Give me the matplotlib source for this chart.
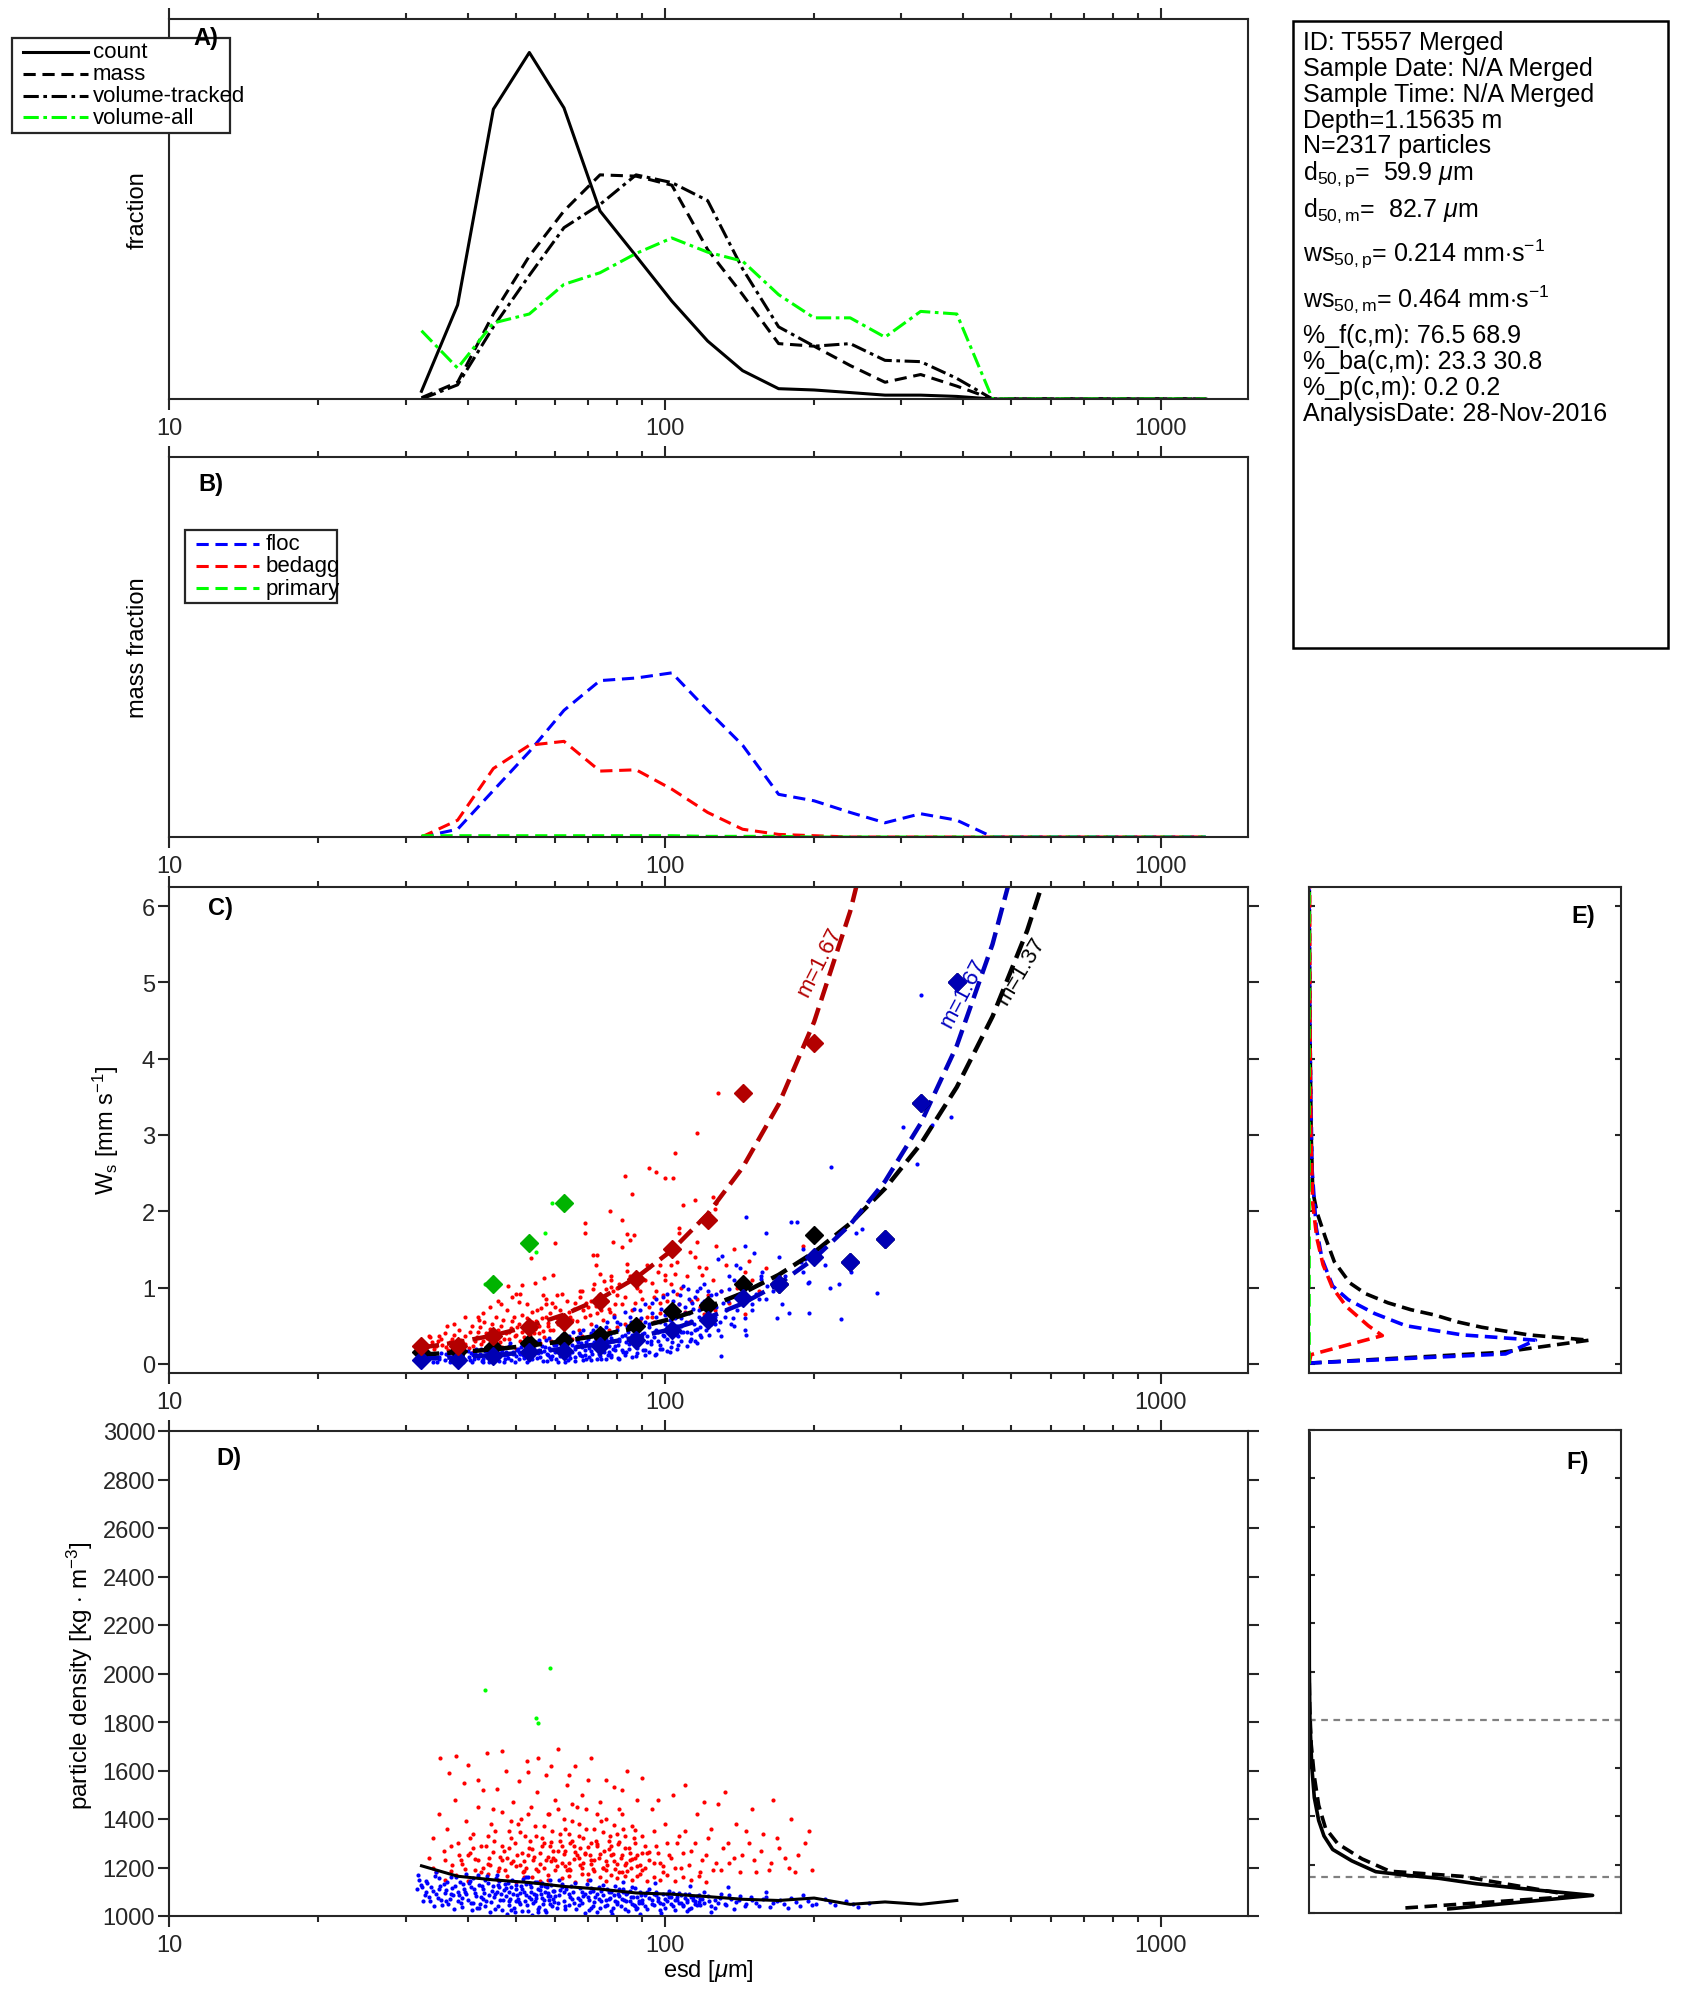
import numpy as np
import matplotlib
matplotlib.use('Agg')
import matplotlib.pyplot as plt
from matplotlib.lines import Line2D
from matplotlib.patches import Rectangle
from matplotlib.ticker import FixedLocator, NullFormatter

plt.rcParams['font.family'] = ['Liberation Sans', 'DejaVu Sans']
plt.rcParams['mathtext.fontset'] = 'custom'
plt.rcParams['mathtext.rm'] = 'Liberation Sans'
plt.rcParams['mathtext.it'] = 'Liberation Sans:italic'
plt.rcParams['mathtext.bf'] = 'Liberation Sans:bold'

# ---------------- data ----------------
bins = [32.3, 38.2, 45.1, 53.3, 62.6, 74.0, 87.5, 103.3, 122, 143.5, 169.6, 200,
        236.5, 278, 328, 388, 458, 538, 636, 751, 887, 1049, 1233]

# panel A (fraction, arbitrary units)
frac_count = [0.006, 0.073, 0.225, 0.269, 0.226, 0.146, 0.111, 0.076, 0.045, 0.022, 0.008,
              0.007, 0.005, 0.003, 0.003, 0.002, 0, 0, 0, 0, 0, 0, 0]
frac_mass = [0.001, 0.013, 0.066, 0.111, 0.146, 0.174, 0.173, 0.166, 0.116, 0.081, 0.043,
             0.041, 0.026, 0.013, 0.019, 0.010, 0, 0, 0, 0, 0, 0, 0]
frac_voltracked = [0.0, 0.011, 0.056, 0.096, 0.133, 0.151, 0.174, 0.168, 0.154, 0.101, 0.056,
                   0.041, 0.043, 0.030, 0.029, 0.016, 0, 0, 0, 0, 0, 0, 0]
frac_volall = [0.053, 0.024, 0.059, 0.066, 0.089, 0.098, 0.113, 0.125, 0.114, 0.107, 0.081,
               0.063, 0.063, 0.048, 0.068, 0.066, 0, 0, 0, 0, 0, 0, 0]

# panel B (mass fraction, arbitrary units)
mf_floc = [0.0, 0.006, 0.036, 0.066, 0.098, 0.121, 0.123, 0.127, 0.098, 0.071, 0.033,
           0.028, 0.019, 0.011, 0.018, 0.013, 0, 0, 0, 0, 0, 0, 0]
mf_bedagg = [0.0, 0.013, 0.053, 0.071, 0.074, 0.051, 0.052, 0.037, 0.019, 0.006, 0.002,
             0.001, 0, 0, 0, 0, 0, 0, 0, 0, 0, 0, 0]
mf_primary = [0.001, 0.001, 0.001, 0.001, 0.001, 0.001, 0.001, 0.001, 0.0005, 0.0005, 0.0005,
              0, 0, 0, 0, 0, 0, 0, 0, 0, 0, 0, 0]

# panel C medians per bin (first 16 bins)
med_bins = bins[:16]
ws_med_floc = [0.056, 0.056, 0.10, 0.15, 0.17, 0.24, 0.31, 0.45, 0.57, 0.86, 1.04, 1.40,
               1.33, 1.63, 3.42, 5.0]
ws_med_bedagg = [0.24, 0.24, 0.36, 0.48, 0.55, 0.83, 1.11, 1.51, 1.88, 3.55, np.nan, 4.2,
                 np.nan, np.nan, np.nan, np.nan]
ws_med_primary = [np.nan, np.nan, 1.04, 1.59, 2.11, np.nan, np.nan, np.nan, np.nan, np.nan,
                  np.nan, np.nan, np.nan, np.nan, np.nan, np.nan]
ws_med_all = [0.15, 0.17, 0.22, 0.27, 0.31, 0.38, 0.50, 0.69, 0.77, 1.04, 1.04, 1.69,
              1.33, 1.63, 3.42, 5.0]

# fitted settling-velocity curves evaluated at bin centres (first 19 bins)
fit_bins = bins[:19]
ws_fit_bedagg = [0.213, 0.283, 0.373, 0.493, 0.645, 0.852, 1.128, 1.488, 1.964, 2.573, 3.400,
                 4.482, 5.931, 7.78, np.nan, np.nan, np.nan, np.nan, np.nan]
ws_fit_floc = [0.066, 0.087, 0.115, 0.152, 0.198, 0.262, 0.347, 0.457, 0.604, 0.791, 1.045,
               1.378, 1.824, 2.392, 3.15, 4.17, 5.50, 7.20, np.nan]
ws_fit_all = [0.120, 0.152, 0.190, 0.239, 0.298, 0.375, 0.472, 0.592, 0.743, 0.927, 1.166,
              1.462, 1.840, 2.298, 2.880, 3.628, 4.553, 5.679, 7.133]
fit_labels = ['m=1.67', 'm=1.67', 'm=1.37']

# panel C particles (esd um, ws mm/s)
c_floc = [
 (31.5,0.04),(32.0,0.07),(32.4,0.10),(33.0,0.05),(33.5,0.12),(34.0,0.03),(34.4,0.08),(35.0,0.06),
 (35.3,0.14),(33.8,0.09),(36.0,0.05),(36.5,0.11),(37.0,0.08),(37.4,0.15),(38.0,0.04),(38.5,0.10),
 (39.0,0.13),(39.4,0.07),(40.0,0.17),(40.5,0.05),(41.0,0.11),(41.5,0.14),(42.0,0.08),(42.5,0.19),
 (43.0,0.06),(43.5,0.12),(44.0,0.16),(44.5,0.10),(45.0,0.04),(45.5,0.21),(46.0,0.09),(46.5,0.14),
 (47.0,0.18),(47.5,0.07),(48.0,0.12),(48.5,0.23),(49.0,0.05),(49.5,0.16),(50.0,0.10),(50.5,0.20),
 (51.0,0.13),(51.5,0.26),(52.0,0.08),(52.5,0.17),(53.0,0.22),(53.5,0.11),(54.0,0.06),(54.5,0.19),
 (55.0,0.28),(55.5,0.14),(56.0,0.09),(56.5,0.24),(57.0,0.17),(57.5,0.31),(58.0,0.12),(58.5,0.21),
 (59.0,0.07),(59.5,0.27),(60.0,0.15),(61.0,0.33),(61.5,0.10),(62.0,0.22),(62.5,0.18),(63.0,0.29),
 (63.5,0.13),(64.0,0.36),(64.5,0.08),(65.0,0.25),(66.0,0.19),(66.5,0.31),(67.0,0.14),(67.5,0.40),
 (68.0,0.22),(69.0,0.11),(69.5,0.28),(70.0,0.35),(71.0,0.17),(71.5,0.44),(72.0,0.24),(73.0,0.30),
 (73.5,0.13),(74.0,0.38),(75.0,0.20),(76.0,0.48),(76.5,0.27),(77.0,0.16),(78.0,0.34),(79.0,0.42),
 (79.5,0.23),(80.0,0.55),(81.0,0.30),(82.0,0.18),(83.0,0.38),(84.0,0.50),(84.5,0.26),(85.0,0.62),
 (86.0,0.33),(87.0,0.45),(88.0,0.21),(89.0,0.70),(90.0,0.39),(91.0,0.55),(92.0,0.28),(93.0,0.48),
 (94.0,0.80),(95.0,0.35),(96.0,0.62),(97.0,0.42),(98.0,0.25),(99.0,0.88),(100.0,0.52),(101.0,0.33),
 (102.0,0.70),(103.0,0.45),(104.0,0.95),(105.0,0.60),(106.0,0.38),(107.0,0.78),(108.0,0.50),
 (109.0,1.02),(110.0,0.66),(111.0,0.42),(112.0,0.85),(113.0,0.56),(114.0,0.72),(115.0,0.30),
 (116.0,0.95),(117.0,0.62),(118.0,0.48),(119.0,0.80),(120.0,1.05),(121.0,0.55),(122.0,0.70),
 (123.0,0.38),(124.0,0.90),(125.0,0.60),(127.0,0.75),(128.0,0.45),(130.0,0.95),(132.0,0.62),
 (134.0,0.82),(136.0,0.52),(138.0,1.10),(140.0,0.70),(142.0,0.88),(145.0,0.60),(148.0,1.00),
 (150.0,0.78),(153.0,0.92),(156.0,1.15),(160.0,0.85),
 (40.8,0.02),(44.2,0.03),(47.3,0.02),(52.8,0.03),(57.8,0.04),(62.8,0.03),(68.5,0.05),(74.5,0.06),
 (80.5,0.08),(87.5,0.10),(95.5,0.12),(102.5,0.15),(37.8,0.02),(42.8,0.04),(45.8,0.13),(50.8,0.15),
 (55.8,0.18),(60.8,0.20),(65.8,0.22),(70.8,0.25),(75.8,0.28),(80.8,0.33),(85.8,0.36),(90.8,0.40),
 (95.8,0.45),(100.8,0.48),(105.8,0.50),(58.8,0.09),(64.2,0.12),(70.4,0.09),(76.8,0.12),(83.6,0.15),
 (91.4,0.18),(98.6,0.20),(106.5,0.25),(112.5,0.30),(118.5,0.35),(60.2,0.25),(66.8,0.28),
 (72.6,0.32),(78.6,0.20),(86.6,0.26),(93.6,0.30),(99.6,0.36),(107.8,0.42),(114.8,0.45),
 (32.2,0.02),(32.8,0.13),(33.3,0.07),(34.1,0.11),(34.7,0.02),(35.1,0.09),(36.2,0.13),(36.8,0.03),
 (37.3,0.06),(38.2,0.12),(38.7,0.17),(39.2,0.03),(40.2,0.09),(40.7,0.14),(41.2,0.06),(41.7,0.19),
 (42.3,0.13),(42.9,0.02),(43.3,0.17),(43.8,0.09),(44.3,0.21),(44.8,0.06),(45.3,0.12),(45.8,0.24),
 (46.3,0.04),(46.8,0.19),(47.3,0.11),(47.8,0.15),(48.3,0.08),(48.8,0.27),(49.3,0.13),(49.8,0.03),
 (50.3,0.18),(50.8,0.06),(51.3,0.22),(51.8,0.11),(52.3,0.29),(52.8,0.14),(53.3,0.05),(53.8,0.20),
 (54.3,0.12),(54.8,0.25),(55.3,0.08),(55.8,0.31),(56.3,0.16),(56.8,0.04),(57.3,0.22),(57.8,0.13),
 (58.3,0.34),(58.8,0.18),(59.3,0.10),(59.8,0.25),(60.4,0.06),(60.9,0.29),(61.4,0.15),(61.9,0.38),
 (62.4,0.11),(62.9,0.24),(63.4,0.19),(63.9,0.05),(64.4,0.31),(64.9,0.16),(65.4,0.42),(65.9,0.09),
 (66.4,0.23),(66.9,0.35),(67.4,0.12),(67.9,0.27),(68.4,0.45),(68.9,0.18),(69.4,0.06),(69.9,0.32),
 (70.4,0.21),(70.9,0.40),(71.4,0.13),(71.9,0.29),(72.5,0.50),(73.0,0.20),(73.5,0.35),(74.0,0.10),
 (74.5,0.27),(75.0,0.44),(75.5,0.16),(76.0,0.33),(76.5,0.55),(77.0,0.24),(77.5,0.39),(78.0,0.12),
 (78.5,0.30),(79.0,0.62),(79.5,0.18),(80.0,0.45),(80.6,0.25),(81.2,0.52),(81.8,0.36),(82.4,0.15),
 (83.0,0.68),(83.6,0.28),(84.2,0.42),(84.8,0.20),(85.4,0.55),(86.0,0.38),(86.6,0.72),(87.2,0.24),
 (88.0,0.46),(88.8,0.32),(89.6,0.60),(90.4,0.18),(91.2,0.78),(92.0,0.36),(92.8,0.52),(93.6,0.26),
 (94.4,0.66),(95.2,0.42),(96.0,0.85),(96.8,0.30),(97.6,0.55),(98.4,0.72),(99.2,0.38),(100.0,0.64),
 (100.8,0.92),(101.6,0.44),(102.4,0.58),(103.2,0.28),(104.0,0.82),(104.8,0.50),(105.6,0.68),
 (106.4,0.36),(107.2,0.90),(108.0,0.60),(108.8,0.42),(109.6,0.75),(110.4,0.55),(111.2,0.98),
 (112.0,0.66),(112.8,0.40),(113.6,0.80),(114.4,0.52),(115.2,0.88),(116.0,0.46),(117,0.70),
 (118,1.00),(119,0.58),(120,0.82),(121,0.44),(122,0.95),(123,0.66),(124,0.52),(125,0.78),
 (126,0.62),(127,0.92),(129,0.55),(131,0.80),(133,0.70),(135,0.98),(137,0.60),
 (61,0.03),(66,0.04),(71,0.05),(76,0.07),(81,0.06),(86,0.09),(91,0.11),(96,0.13),(101,0.17),
 (106,0.20),(111,0.23),(116,0.27),(63,0.08),(68,0.10),(73,0.07),(78,0.09),(83,0.11),(88,0.14),
 (93,0.16),(98,0.19),(103,0.22),(108,0.30),(113,0.33),(118,0.38),
 (146,1.93),(180,1.86),(160,1.72),(145,1.54),(151,1.45),(130.5,1.41),(128,1.38),(139,1.30),
 (157,1.20),(156,1.11),(161,1.02),(190,1.20),(188,1.34),(194,1.06),(178,0.67),(172,0.78),
 (146,0.38),(130,0.10),(145,0.45),(130,0.36),(138,0.50),(126,0.52),(216,2.58),(227,0.59),
 (215,0.99),(224,1.04),(237,1.21),(243,1.72),(250,1.77),(185,1.86),(190,1.51),(192,1.37),
 (195,1.07),(195,0.66),(268,0.93),(322,2.62),(302,3.10),(346,3.13),(377,3.23),(328,4.84),
 (170,1.40),(175,1.15),(165,0.95),(155,0.85),(168,0.60),(150,0.70),(140,0.90),(135,1.15),
 (142,1.25),(205,1.45),(210,1.30)]
c_bedagg = [
 (32.0,0.18),(32.5,0.28),(33.0,0.22),(33.6,0.35),(34.2,0.20),(34.8,0.30),(35.5,0.25),(36.0,0.40),
 (36.6,0.18),(37.2,0.32),(37.8,0.24),(38.4,0.45),(39.0,0.28),(39.6,0.36),(40.2,0.21),(40.8,0.50),
 (41.4,0.30),(42.0,0.42),(42.6,0.26),(43.2,0.55),(43.8,0.34),(44.4,0.46),(45.0,0.29),(45.6,0.62),
 (46.2,0.38),(46.8,0.50),(47.4,0.32),(48.0,0.70),(48.6,0.42),(49.2,0.56),(49.8,0.36),(50.4,0.48),
 (51.0,0.30),(51.6,0.64),(52.2,0.44),(52.8,0.78),(53.4,0.38),(54.0,0.55),(54.6,0.46),(55.2,0.70),
 (55.8,0.40),(56.4,0.60),(57.0,0.35),(57.6,0.85),(58.2,0.50),(58.8,0.66),(59.4,0.44),(60.0,0.75),
 (61.0,0.52),(62.0,0.92),(63.0,0.48),(64.0,0.68),(65.0,0.58),(66.0,0.80),(67.0,0.45),(68.0,0.95),
 (69.0,0.62),(70.0,0.74),(71.0,0.52),(72.0,1.05),(73.0,0.66),(74.0,0.86),(75.0,0.58),(76.0,0.98),
 (77.0,0.72),(78.0,1.15),(79.0,0.64),(80.0,0.90),(82.0,0.78),(84.0,1.22),(86.0,0.70),(88.0,1.00),
 (90.0,0.85),(92.0,1.30),(94.0,0.62),(96.0,0.95),(98.0,0.80),(100.0,1.10),(104.0,0.75),
 (108.0,1.00),(112.0,0.55),(116.0,0.85),(120.0,0.65),
 (41,0.16),(44,0.19),(47,0.22),(50,0.20),(53,0.25),(56,0.27),(59,0.30),(62,0.28),(65,0.33),
 (68,0.36),(71,0.38),(74,0.42),(77,0.45),(80,0.48),(83,0.52),(86,0.50),(89,0.58),(92,0.62),
 (95,0.55),(98,0.66),(101,0.70),(104,0.60),(107,0.78),(110,0.68),(113,0.82),(118,0.75),
 (122,0.90),(126,0.70),(130,0.95),(135,0.80),(140,1.00),(145,0.65),(150,1.10),(160,1.25),
 (32.4,0.25),(33.2,0.15),(33.9,0.28),(34.6,0.23),(35.3,0.33),(36.2,0.22),(36.9,0.28),(37.6,0.38),
 (38.1,0.20),(38.8,0.31),(39.5,0.26),(40.4,0.42),(41.1,0.24),(41.8,0.35),(42.4,0.48),(43.0,0.30),
 (43.6,0.40),(44.2,0.25),(44.9,0.52),(45.5,0.35),(46.1,0.44),(46.6,0.28),(47.2,0.58),(47.8,0.40),
 (48.4,0.33),(49.0,0.47),(49.6,0.62),(50.2,0.38),(50.9,0.52),(51.5,0.42),(52.1,0.35),(52.7,0.60),
 (53.2,0.47),(53.9,0.68),(54.5,0.40),(55.1,0.56),(55.7,0.49),(56.3,0.73),(56.9,0.43),(57.5,0.62),
 (58.1,0.54),(58.7,0.45),(59.3,0.80),(60.5,0.60),(61.5,0.70),(62.5,0.55),(63.5,0.82),(64.5,0.62),
 (65.5,0.72),(66.5,0.56),(67.5,0.88),(68.5,0.70),(69.5,0.80),(70.5,0.64),(71.5,0.98),(72.5,0.76),
 (73.5,0.90),(74.5,0.70),(75.5,1.08),(76.5,0.82),(77.5,0.68),(78.5,0.95),(79.5,0.78),(81,1.05),
 (83,0.88),(85,1.15),(87,0.80),(89,0.95),(91,1.10),(93,0.75),(97,1.20),(99,0.90),(103,1.30),
 (111,1.15),(115,1.40),(121,1.25),(125,1.10),(133,1.30),(138,1.50),(145,1.20),
 (128,3.55),(116,3.02),(105,2.77),(93,2.57),(96,2.52),(100,2.43),(104,2.43),(83,2.46),(86,2.22),
 (77.5,2.0),(69,1.84),(69,1.72),(82,1.88),(84,1.70),(86.5,1.69),(85,1.62),(82,1.53),(78.5,1.60),
 (60,1.58),(53.6,1.39),(71.5,1.43),(73,1.43),(72.5,1.30),(74,1.18),(78,1.10),(78,1.01),(80,0.99),
 (109,2.08),(115,2.15),(125,2.19),(127,2.11),(126,2.03),(127,1.55),(116,1.60),(112.5,1.47),
 (107,1.78),(107,1.72),(106,1.34),(117,1.27),(119,1.17),(98,1.30),(100,1.16),(105,1.18),
 (103,1.04),(106,0.92),(101,0.83),(95,0.88),(93,1.27),(94,1.06),(84,1.31),(59.6,1.17),(57,1.13),
 (54.6,1.06),(51.5,1.03),(48.3,1.02),(50,0.92),(51,0.91),(46,0.83),(46.8,0.78),(44.5,0.74),
 (42.9,0.66),(39.6,0.62),(37.6,0.52),(36.4,0.50),(33.5,0.36),(35,0.36),(42.2,0.57),(42,0.62),
 (49.2,0.88),(50.8,0.81),(56.7,0.90),(57.6,0.78),(60.7,0.90),(67.4,0.95),(71,0.83),
 (148,1.35),(155,0.95),(170,1.15),(190,1.55)]
c_primary = [(43.4,1.04),(57.2,1.72),(59.2,2.11),(55.0,1.47)]

# panel D particles (esd um, density kg/m3)
d_floc = [
 (32.0,1150),(32.4,1120),(32.8,1085),(33.2,1135),(33.6,1060),(34.0,1105),(34.4,1165),(34.8,1075),
 (35.2,1125),(35.6,1045),(36.0,1095),(36.4,1140),(36.8,1070),(37.2,1115),(37.6,1030),(38.0,1160),
 (38.4,1088),(38.8,1052),(39.2,1130),(39.6,1100),(40.0,1068),(40.4,1145),(40.8,1025),(41.2,1110),
 (41.6,1082),(42.0,1170),(42.4,1048),(42.8,1122),(43.2,1095),(43.6,1060),(44.0,1138),(44.4,1018),
 (44.8,1105),(45.2,1078),(45.6,1155),(46.0,1040),(46.4,1118),(46.8,1090),(47.2,1065),(47.6,1130),
 (48.0,1010),(48.4,1100),(48.8,1072),(49.2,1148),(49.6,1035),(50.0,1112),(50.4,1085),(50.8,1058),
 (51.2,1125),(51.6,1022),(52.0,1098),(52.4,1160),(52.8,1045),(53.2,1080),(53.6,1118),(54.0,1005),
 (54.4,1092),(54.8,1062),(55.2,1140),(55.6,1030),(56.0,1108),(56.4,1076),(56.8,1050),(57.2,1122),
 (57.6,1015),(58.0,1095),(58.4,1068),(58.8,1150),(59.2,1040),(59.6,1102),(60.0,1082),(61.0,1055),
 (62.0,1120),(63.0,1028),(64.0,1090),(65.0,1070),(66.0,1135),(67.0,1045),(68.0,1100),(69.0,1012),
 (70.0,1078),(71.0,1115),(72.0,1058),(73.0,1092),(74.0,1035),(75.0,1128),(76.0,1065),(77.0,1098),
 (78.0,1020),(79.0,1085),(80.0,1050),(81.0,1110),(82.0,1072),(83.0,1030),(84.0,1095),(85.0,1060),
 (86.0,1120),(87.0,1042),(88.0,1080),(89.0,1008),(90.0,1068),(92.0,1100),(94.0,1048),(96.0,1085),
 (98.0,1025),(100.0,1070),(102.0,1105),(104.0,1040),(106.0,1078),(108.0,1055),(110.0,1092),
 (112.0,1030),(114.0,1065),(116.0,1082),(118.0,1045),(120.0,1098),(123.0,1060),(126.0,1035),
 (129.0,1075),(132.0,1050),(135.0,1088),(138.0,1028),(141.0,1065),(145.0,1042),(149.0,1080),
 (153.0,1055),(158.0,1070),(163.0,1038),(168.0,1060),(174.0,1048),(180.0,1075),(187.0,1040),
 (194.0,1062),(202.0,1050),(210.0,1070),(220.0,1045),(232.0,1060),(245.0,1038),(258.0,1055),
 (38.2,1098),(40.6,1118),(43.0,1072),(45.4,1090),(47.8,1115),(50.2,1060),(52.6,1130),(55.0,1085),
 (57.4,1100),(59.8,1058),(62.5,1098),(65.5,1052),(68.5,1082),(71.5,1040),(74.5,1105),(77.5,1075),
 (80.5,1090),(83.5,1062),(86.5,1045),(89.5,1088),(93.0,1075),(97.0,1060),(101.0,1090),
 (105.0,1065),(109.0,1045),(113.0,1078),(117.0,1058),(33.0,1098),(35.0,1112),(37.0,1090),
 (39.0,1075),(41.0,1055),(43.4,1150),(46.0,1128),(48.6,1045),(51.0,1095),(53.8,1070),(56.2,1125),
 (58.6,1082),(61.5,1108),(64.5,1080),(67.5,1068),(70.5,1098),(73.5,1070),(76.5,1045),(79.5,1062),
 (82.5,1098),(85.5,1078),(88.5,1055),(91.0,1040),(95.0,1092),(99.0,1048),(103.0,1080),
 (107.0,1095),(111.0,1068),(115.0,1050),(119.0,1072),(36.2,1060),(42.2,1032),(49.0,1026),
 (55.4,1015),(62.8,1040),(70.2,1025),(78.4,1010),(87.6,1028),(98.4,1012),(110.6,1020),
 (124.0,1018),(31.6,1110),(31.8,1170),(34.6,1180),(39.8,1172),(45.8,1168),(53.0,1162),
 (61.2,1150),(70.8,1148),(82.2,1140),(95.6,1135),(112.4,1125),(134.0,1118),(160.0,1100),
 (190.0,1085),
 (32.2,1128),(32.6,1062),(33.0,1145),(33.4,1078),(33.8,1118),(34.2,1042),(34.6,1092),(35.0,1155),
 (35.4,1068),(35.8,1132),(36.2,1108),(36.6,1050),(37.0,1162),(37.4,1085),(37.8,1125),(38.2,1062),
 (38.6,1140),(39.0,1038),(39.4,1112),(39.8,1090),(40.2,1135),(40.6,1052),(41.0,1158),(41.4,1095),
 (41.8,1035),(42.2,1128),(42.6,1078),(43.0,1110),(43.4,1042),(43.8,1165),(44.2,1088),(44.6,1058),
 (45.0,1122),(45.4,1030),(45.8,1098),(46.2,1145),(46.6,1068),(47.0,1025),(47.4,1108),(47.8,1082),
 (48.2,1138),(48.6,1060),(49.0,1118),(49.4,1092),(49.8,1015),(50.2,1128),(50.6,1070),(51.0,1048),
 (51.4,1110),(51.8,1152),(52.2,1062),(52.6,1088),(53.0,1020),(53.4,1130),(53.8,1098),(54.2,1055),
 (54.6,1142),(55.0,1075),(55.4,1112),(55.8,1038),(56.2,1092),(56.6,1135),(57.0,1065),(57.4,1025),
 (57.8,1118),(58.2,1082),(58.6,1050),(59.0,1128),(59.4,1072),(59.8,1105),(60.5,1035),(61.2,1088),
 (61.9,1130),(62.6,1062),(63.3,1110),(64.0,1045),(64.7,1122),(65.4,1098),(66.1,1028),(66.8,1075),
 (67.5,1115),(68.2,1055),(68.9,1092),(69.6,1130),(70.3,1068),(71.0,1035),(71.7,1102),(72.4,1080),
 (73.1,1018),(73.8,1118),(74.5,1060),(75.2,1088),(75.9,1042),(76.6,1110),(77.3,1070),(78.0,1098),
 (78.7,1032),(79.4,1125),(80.1,1058),(80.8,1082),(81.5,1040),(82.2,1112),(82.9,1068),(83.6,1092),
 (84.3,1022),(85.0,1105),(85.7,1050),(86.4,1078),(87.1,1115),(87.8,1035),(88.5,1062),(89.2,1098),
 (90.0,1052),(91.0,1085),(92.0,1030),(93.0,1112),(94.0,1068),(95.0,1045),(96.0,1100),(97.0,1075),
 (98.0,1055),(99.0,1092),(100,1035),(101,1062),(102,1080),(103,1048),(104,1095),(105,1025),
 (106,1068),(107,1052),(108,1085),(109,1040),(110,1075),(111,1058),(112,1090),(113,1035),
 (114,1080),(115,1062),(116,1045),(117,1088),(118,1070),(120,1052),(122,1082),(124,1040),
 (126,1068),(128,1055),(130,1090),(133,1045),(136,1070),(139,1058),(142,1082),(146,1050),
 (150,1068),(155,1040),(160,1078),(165,1052),(171,1065),(177,1035),(184,1058),(198,1045),
 (215,1058),(240,1050)]
d_bedagg = [
 (33.5,1240),(34.0,1320),(34.5,1180),(35.0,1420),(35.2,1652),(35.8,1270),(36.3,1360),(36.7,1589),
 (37.2,1210),(37.8,1480),(38.3,1300),(38.8,1230),(39.3,1550),(39.8,1390),(40.0,1621),(40.5,1260),
 (41.0,1340),(41.5,1190),(42.0,1450),(42.5,1290),(43.0,1520),(43.7,1674),(44.2,1240),(44.7,1380),
 (45.2,1310),(45.9,1525),(46.4,1200),(46.9,1430),(47.4,1270),(47.9,1600),(48.4,1350),(48.9,1220),
 (49.4,1470),(49.9,1300),(50.4,1250),(50.8,1557),(51.3,1400),(51.8,1180),(52.3,1330),(52.8,1640),
 (53.3,1280),(53.8,1450),(54.3,1230),(54.8,1370),(55.3,1510),(55.6,1652),(56.1,1260),(56.6,1320),
 (57.1,1200),(57.6,1580),(58.1,1420),(58.6,1290),(59.1,1350),(59.6,1240),(60.1,1480),(61.0,1690),
 (61.5,1310),(62.0,1220),(62.5,1400),(63.0,1270),(63.5,1540),(64.0,1340),(64.5,1190),(65.0,1460),
 (65.5,1290),(66.0,1620),(66.5,1250),(67.0,1380),(67.5,1210),(68.0,1500),(68.5,1320),(69.0,1260),
 (69.5,1440),(70.0,1560),(71.0,1230),(72.0,1360),(73.0,1290),(74.0,1470),(75.0,1200),(76.0,1400),
 (77.0,1310),(78.0,1250),(79.0,1530),(80.0,1340),(81.0,1180),(82.0,1420),(83.0,1280),(84.0,1600),
 (85.0,1230),(86.0,1370),(87.0,1300),(88.0,1480),(89.0,1210),(90.0,1330),(92.0,1260),(94.0,1440),
 (96.0,1290),(98.0,1220),(100.0,1380),(102.0,1250),(104.0,1500),(106.0,1300),(108.0,1200),
 (110.0,1350),(113.0,1270),(116.0,1420),(119.0,1230),(122.0,1320),(125.0,1190),(128.0,1460),
 (131.0,1280),(135.0,1220),(139.0,1380),(143.0,1250),(148.0,1300),(153.0,1180),(158.0,1340),
 (164.0,1220),(170.0,1280),(178.0,1200),(186.0,1250),(198.0,1191),
 (36,1150),(38,1170),(40,1145),(42,1160),(44,1175),(46,1150),(48,1165),(50,1140),(52,1185),
 (54,1160),(56,1145),(58,1170),(60,1190),(62,1155),(64,1165),(66,1140),(68,1175),(70,1150),
 (72,1185),(74,1160),(76,1145),(78,1170),(80,1155),(83,1165),(86,1150),(89,1175),(92,1145),
 (95,1160),(98,1150),(101,1170),(105,1145),(109,1160),(113,1150),(117,1165),(121,1140),
 (39,1215),(43,1200),(47,1230),(51,1210),(55,1195),(59,1225),(63,1205),(67,1240),(71,1215),
 (75,1200),(79,1225),(83,1210),(87,1240),(91,1200),(95,1220),(99,1205),(45,1265),(53,1250),
 (61,1270),(69,1255),(77,1275),(85,1260),(93,1265),(57,1300),(65,1310),(73,1295),(81,1305),
 (49,1320),(41,1280),
 (37,1185),(38.5,1250),(39.5,1195),(40.5,1320),(41.5,1235),(42.5,1180),(43.5,1290),(44.5,1210),
 (45.5,1350),(46.5,1245),(47.5,1190),(48.5,1280),(49.5,1225),(50.5,1380),(51.5,1260),(52.5,1200),
 (53.5,1310),(54.5,1245),(55.5,1185),(56.5,1290),(57.5,1230),(58.5,1420),(59.5,1270),(60.5,1205),
 (61.5,1340),(62.5,1255),(63.5,1190),(64.5,1300),(65.5,1235),(66.5,1450),(67.5,1280),(68.5,1220),
 (69.5,1360),(70.5,1250),(71.5,1195),(72.5,1310),(73.5,1240),(74.5,1390),(75.5,1270),(76.5,1210),
 (77.5,1330),(78.5,1255),(79.5,1195),(80.5,1295),(81.5,1240),(82.5,1360),(83.5,1220),(84.5,1280),
 (85.5,1200),(86.5,1320),(88,1250),(90,1190),(91,1290),(93,1230),(95,1350),(97,1260),(99,1180),
 (101,1300),(103,1240),(105,1200),(107,1330),(109,1260),(112,1210),(115,1300),(118,1180),
 (121,1250),(124,1360),(127,1220),(130,1190),(134,1300),(138,1240),(142,1180),(146,1350),
 (151,1230),(156,1270),(162,1190),(168,1320),(175,1240),(183,1180),(192,1300),
 (38,1660),(42,1560),(47,1680),(53,1595),(59,1620),(64,1580),(71,1650),(76,1560),(82,1520),
 (90,1570),(97,1480),(110,1540),(120,1470),(132,1510),(150,1440),(165,1480),(180,1400),
 (195,1350),
 (44,1215),(46,1185),(48,1240),(50,1205),(52,1225),(54,1275),(56,1215),(58,1245),(60,1230),
 (62,1290),(64,1220),(66,1265),(68,1200),(70,1285),(72,1230),(74,1255),(76,1225),(78,1290),
 (80,1215),(82,1250),(84,1185),(86,1235),(88,1205),(90,1260),(47,1290),(51,1345),(55,1330),
 (59,1305),(63,1360),(67,1330),(71,1300),(75,1345),(79,1375),(83,1330),(87,1355),(52,1160),
 (58,1150),(64,1195),(70,1175),(76,1190),(82,1180),(88,1165),(42,1230),(40,1250),(36,1230),
 (34,1200),(37,1290),(44,1330),(49,1390),(57,1370),(65,1390),(73,1420),(81,1440),(61,1440),
 (53,1420),(45,1440)]
d_primary = [(43.3,1934),(58.6,2024),(55.0,1817),(55.5,1795)]

# median density per bin (first 16 bins)
rho_med = [1207, 1164, 1149, 1138, 1122, 1111, 1095, 1090, 1080, 1069, 1064, 1074,
           1048, 1058, 1048, 1064]

# panel E: ws distributions (fraction, ws)
e_all = [(0.0, 0.01), (0.614, 0.15), (0.898, 0.31), (0.703, 0.38), (0.553, 0.48), (0.476, 0.55),
         (0.403, 0.64), (0.326, 0.71), (0.253, 0.80), (0.181, 0.92), (0.131, 1.06), (0.081, 1.34),
         (0.053, 1.65), (0.026, 1.98), (0.012, 2.26), (0.007, 3.0), (0.003, 4.4), (0.001, 6.25)]
e_floc = [(0.0, 0.01), (0.63, 0.13), (0.726, 0.31), (0.49, 0.38), (0.31, 0.50), (0.21, 0.66),
          (0.126, 0.84), (0.076, 1.02), (0.042, 1.37), (0.023, 1.79), (0.01, 2.54), (0.006, 3.47),
          (0.003, 4.4), (0.0, 6.23)]
e_bedagg = [(0.0, 0.0), (0.006, 0.12), (0.235, 0.37), (0.19, 0.50), (0.12, 0.75), (0.075, 1.0),
            (0.045, 1.3), (0.025, 1.65), (0.012, 2.1), (0.006, 3.0), (0.003, 4.5), (0.002, 6.25)]
e_primary = [(0.0, 0.0), (0.0, 6.25)]

# panel F: density distributions (fraction, density)
f_count = [(0.448, 1017), (0.909, 1073), (0.714, 1097), (0.537, 1121), (0.414, 1144), (0.314, 1156),
           (0.214, 1171), (0.137, 1216), (0.076, 1263), (0.048, 1319), (0.031, 1383), (0.017, 1478),
           (0.009, 1605), (0.003, 1795), (0.001, 2017), (0.0, 2986)]
f_mass = [(0.309, 1021), (0.859, 1070), (0.49, 1152), (0.259, 1173), (0.17, 1224), (0.092, 1287),
          (0.053, 1351), (0.031, 1446), (0.017, 1565), (0.007, 1700), (0.002, 1859), (0.0, 2017)]
f_ref_lines = [1800, 1150]

info_lines = ['ID: T5557 Merged', 'Sample Date: N/A Merged', 'Sample Time: N/A Merged',
              'Depth=1.15635 m', 'N=2317 particles', r'd$_\mathrm{50,p}$=  59.9 $\mu$m',
              r'd$_\mathrm{50,m}$=  82.7 $\mu$m', r'ws$_\mathrm{50,p}$= 0.214 mm$\cdot$s$^\mathrm{-1}$',
              r'ws$_\mathrm{50,m}$= 0.464 mm$\cdot$s$^\mathrm{-1}$', '%_f(c,m): 76.5 68.9',
              '%_ba(c,m): 23.3 30.8', '%_p(c,m): 0.2 0.2', 'AnalysisDate: 28-Nov-2016']

# ---------------- figure ----------------
W, H = 1694, 2015
fig = plt.figure(figsize=(W / 100, H / 100), dpi=100)
AXC = '#262626'
MS = 3.0


def rect(x0, y0, x1, y1):
    return [x0 / W, 1 - y1 / H, (x1 - x0) / W, (y1 - y0) / H]


def fxy(x, y):
    return x / W, 1 - y / H


def style(ax):
    for s in ax.spines.values():
        s.set_color(AXC)
        s.set_linewidth(1.5)


def xlog(ax):
    ax.set_xscale('log')
    ax.set_xlim(10, 1500)
    ax.xaxis.set_major_locator(FixedLocator([10, 100, 1000]))
    ax.xaxis.set_minor_locator(FixedLocator([20, 30, 40, 50, 60, 70, 80, 90,
                                             200, 300, 400, 500, 600, 700, 800, 900]))
    ax.xaxis.set_minor_formatter(NullFormatter())
    ax.set_xticklabels(['10', '100', '1000'])
    ax.tick_params(axis='x', which='major', direction='out', length=8, width=1.5,
                   color=AXC, labelsize=17, labelcolor=AXC, pad=5, top=True, bottom=True)
    ax.tick_params(axis='x', which='minor', direction='out', length=4.3, width=1.5,
                   color=AXC, top=True, bottom=True)


axA = fig.add_axes(rect(169, 20, 1248, 400))
axB = fig.add_axes(rect(169, 458, 1248, 838))
axC = fig.add_axes(rect(169, 888, 1248, 1374))
axD = fig.add_axes(rect(169, 1432, 1248, 1917))
axE = fig.add_axes(rect(1309, 888, 1621, 1374))
axF = fig.add_axes(rect(1309, 1431, 1621, 1914))

for ax in (axA, axB, axC, axD, axE, axF):
    style(ax)
for ax in (axA, axB, axC, axD):
    xlog(ax)

# ---- A ----
dash = (0, (4, 2.2))
dashdot = (0, (5, 1.5, 1.2, 1.5))
axA.plot(bins, frac_count, color='k', lw=2.2, ls='-')
axA.plot(bins, frac_mass, color='k', lw=2.2, ls=dash)
axA.plot(bins, frac_voltracked, color='k', lw=2.2, ls=dashdot)
axA.plot(bins, frac_volall, color=(0, 1, 0), lw=2.2, ls=dashdot)
axA.set_ylim(0, 0.295)
axA.set_yticks([])
fig.text(*fxy(193, 39), 'A)', fontsize=17, fontweight='bold', va='center', ha='left',
         color='k', zorder=10)

# ---- B ----
axB.plot(bins, mf_floc, color=(0, 0, 1), lw=2.2, ls=dash)
axB.plot(bins, mf_bedagg, color=(1, 0, 0), lw=2.2, ls=dash)
axB.plot(bins, mf_primary, color=(0, 1, 0), lw=2.2, ls=dash)
axB.set_ylim(0, 0.294)
axB.set_yticks([])
fig.text(*fxy(198, 485), 'B)', fontsize=17, fontweight='bold', va='center', ha='left')

# ---- C ----
cf = np.array(c_floc); cb = np.array(c_bedagg); cp = np.array(c_primary)
axC.plot(cb[:, 0], cb[:, 1], 'o', ms=MS, mec='none', color=(1, 0, 0))
axC.plot(cf[:, 0], cf[:, 1], 'o', ms=MS, mec='none', color=(0, 0, 1))
axC.plot(cp[:, 0], cp[:, 1], 'o', ms=MS, mec='none', color=(0, 1, 0))
fdash = (0, (4, 1.8))
axC.plot(fit_bins, ws_fit_all, color='k', lw=3.2, ls=fdash)
axC.plot(fit_bins, ws_fit_floc, color=(0, 0, 0.75), lw=3.2, ls=fdash)
axC.plot(fit_bins, ws_fit_bedagg, color=(0.7, 0, 0), lw=3.2, ls=fdash)
axC.plot(med_bins, ws_med_all, 'D', ms=9, color='k', mec='k')
axC.plot(med_bins, ws_med_floc, 'D', ms=9, color=(0, 0, 0.7), mec=(0, 0, 0.7))
axC.plot(med_bins, ws_med_bedagg, 'D', ms=9, color=(0.7, 0, 0), mec=(0.7, 0, 0))
axC.plot(med_bins, ws_med_primary, 'D', ms=9, color=(0, 0.7, 0), mec=(0, 0.7, 0))
axC.set_ylim(-0.12, 6.25)
axC.set_yticks([0, 1, 2, 3, 4, 5, 6])
axC.tick_params(axis='y', direction='out', length=8, width=1.5, color=AXC, labelsize=17,
                labelcolor=AXC, left=True, right=True, pad=2)
fig.text(*fxy(820, 962), fit_labels[0], rotation=63, color=(0.7, 0, 0), fontsize=16,
         ha='center', va='center')
fig.text(*fxy(963, 993), fit_labels[1], rotation=62, color=(0, 0, 0.75), fontsize=16,
         ha='center', va='center')
fig.text(*fxy(1021, 971), fit_labels[2], rotation=59, color='k', fontsize=16,
         ha='center', va='center')
fig.text(*fxy(208, 909), 'C)', fontsize=17, fontweight='bold', va='center', ha='left')

# ---- D ----
df = np.array(d_floc); db = np.array(d_bedagg); dp = np.array(d_primary)
axD.plot(db[:, 0], db[:, 1], 'o', ms=MS, mec='none', color=(1, 0, 0))
axD.plot(df[:, 0], df[:, 1], 'o', ms=MS, mec='none', color=(0, 0, 1))
axD.plot(dp[:, 0], dp[:, 1], 'o', ms=MS, mec='none', color=(0, 1, 0))
axD.plot(med_bins, rho_med, color='k', lw=2.2)
axD.set_ylim(1000, 3000)
axD.set_yticks(list(range(1000, 3001, 200)))
axD.tick_params(axis='y', direction='out', length=8, width=1.5, color=AXC, labelsize=17,
                labelcolor=AXC, left=True, right=True, pad=2)
fig.text(*fxy(216, 1459), 'D)', fontsize=17, fontweight='bold', va='center', ha='left')

# ---- E ----
ea = np.array(e_all); ef = np.array(e_floc); eb = np.array(e_bedagg); ep = np.array(e_primary)
edash = (0, (3.5, 1.8))
axE.plot(ea[:, 0], ea[:, 1], color='k', lw=2.6, ls=edash)
axE.plot(ef[:, 0], ef[:, 1], color=(0, 0, 1), lw=2.6, ls=edash)
axE.plot(eb[:, 0], eb[:, 1], color=(1, 0, 0), lw=2.6, ls=edash)
axE.plot(ep[:, 0], ep[:, 1], color=(0, 1, 0), lw=2.6, ls=edash)
axE.set_xlim(0, 1)
axE.set_ylim(-0.12, 6.25)
axE.set_xticks([])
axE.set_yticks([0, 1, 2, 3, 4, 5, 6])
axE.tick_params(axis='y', direction='in', length=4, width=1.5, color=AXC, labelleft=False,
                left=True, right=True)
fig.text(*fxy(1583, 917), 'E)', fontsize=17, fontweight='bold', va='center', ha='center')

# ---- F ----
fc = np.array(f_count); fm = np.array(f_mass)
for yv in f_ref_lines:
    axF.axhline(yv, color=(0.5, 0.5, 0.5), lw=1.6, ls=(0, (3, 2.5)))
axF.plot(fc[:, 0], fc[:, 1], color='k', lw=2.6, ls='-')
axF.plot(fm[:, 0], fm[:, 1], color='k', lw=2.6, ls=edash)
axF.set_xlim(0, 1)
axF.set_ylim(1000, 3000)
axF.set_xticks([])
axF.set_yticks(list(range(1000, 3001, 200)))
axF.tick_params(axis='y', direction='in', length=4, width=1.5, color=AXC, labelleft=False,
                left=True, right=True)
fig.text(*fxy(1578, 1463), 'F)', fontsize=17, fontweight='bold', va='center', ha='center')

# ---- axis labels ----
fig.text(*fxy(138, 210), 'fraction', rotation=90, fontsize=17, ha='center', va='center')
fig.text(*fxy(138, 648), 'mass fraction', rotation=90, fontsize=17, ha='center', va='center')
fig.text(*fxy(106, 1131), r'W$_\mathrm{s}$ [mm s$^\mathrm{-1}$]', rotation=90, fontsize=17,
         ha='center', va='center')
fig.text(*fxy(80, 1676), r'particle density [kg $\cdot$ m$^\mathrm{-3}$]', rotation=90,
         fontsize=17.5, ha='center', va='center')
fig.text(*fxy(708, 1971), r'esd [$\mu$m]', fontsize=17, ha='center', va='center')


# ---- legends (drawn in figure pixel space) ----
def legend_box(x0, y0, x1, y1):
    fig.patches.append(Rectangle(fxy(x0, y1), (x1 - x0) / W, (y1 - y0) / H,
                                 transform=fig.transFigure, facecolor='white',
                                 edgecolor=AXC, lw=1.6, zorder=5))


def legend_entry(x0, x1, xt, y, color, ls, label):
    (ax0, ay), (ax1, _) = fxy(x0, y), fxy(x1, y)
    fig.lines.append(Line2D([ax0, ax1], [ay, ay], transform=fig.transFigure, color=color,
                            lw=2.2, ls=ls, zorder=6))
    fig.text(*fxy(xt, y), label, fontsize=16, va='center', ha='left', zorder=7)


legend_box(12, 39, 230, 134)
legend_entry(23, 88, 93, 53, 'k', '-', 'count')
legend_entry(23, 88, 93, 75, 'k', dash, 'mass')
legend_entry(23, 88, 93, 97, 'k', dashdot, 'volume-tracked')
legend_entry(23, 88, 93, 118, (0, 1, 0), dashdot, 'volume-all')

legend_box(185, 531, 337, 604)
legend_entry(196, 259, 266, 545, (0, 0, 1), dash, 'floc')
legend_entry(196, 259, 266, 567, (1, 0, 0), dash, 'bedagg')
legend_entry(196, 259, 266, 589, (0, 1, 0), dash, 'primary')

# ---- info box ----
fig.patches.append(Rectangle(fxy(1293, 649), (1668 - 1293) / W, (649 - 22) / H,
                             transform=fig.transFigure, fill=False, edgecolor='k', lw=1.8))
baselines = [50, 76, 102, 127.7, 153.3, 180, 217.3, 261.7, 306.7, 343.3, 369.3, 395, 420.7]
for line, yb in zip(info_lines, baselines):
    fig.text(*fxy(1303, yb), line, fontsize=18, va='baseline', ha='left')

fig.savefig('out.png', dpi=100)
